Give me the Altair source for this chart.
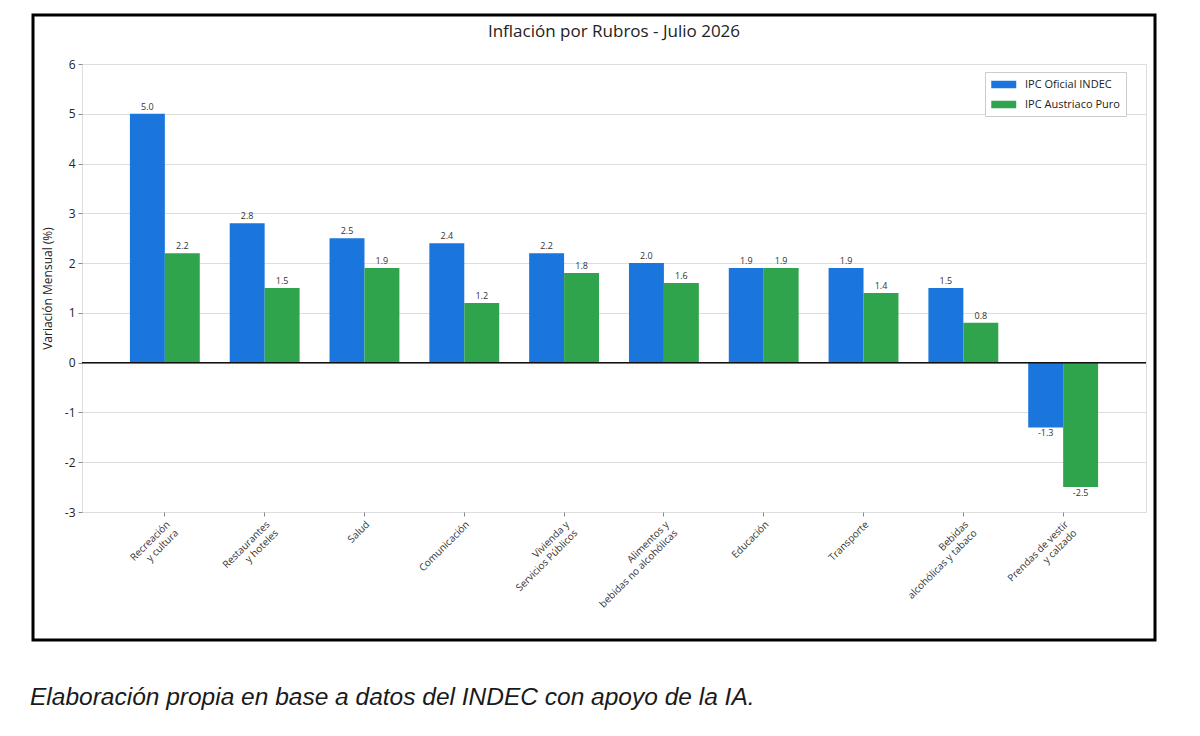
import altair as alt
import pandas as pd

categories = [
    "Recreación|y cultura",
    "Restaurantes|y hoteles",
    "Salud",
    "Comunicación",
    "Vivienda y|Servicios Públicos",
    "Alimentos y|bebidas no alcohólicas",
    "Educación",
    "Transporte",
    "Bebidas|alcohólicas y tabaco",
    "Prendas de vestir|y calzado",
]
indec = [5.0, 2.8, 2.5, 2.4, 2.2, 2.0, 1.9, 1.9, 1.5, -1.3]
austriaco = [2.2, 1.5, 1.9, 1.2, 1.8, 1.6, 1.9, 1.4, 0.8, -2.5]
series_names = ["IPC Oficial INDEC", "IPC Austriaco Puro"]
series_colors = ["#1a76dc", "#2fa44c"]
y_ticks = [-3, -2, -1, 0, 1, 2, 3, 4, 5, 6]
title_text = "Inflación por Rubros - Julio 2026"
y_title = "Variación Mensual (%)"
caption = "Elaboración propia en base a datos del INDEC con apoyo de la IA."

rows = []
for c, a, b in zip(categories, indec, austriaco):
    rows.append({"cat": c, "series": series_names[0], "value": a})
    rows.append({"cat": c, "series": series_names[1], "value": b})
df = pd.DataFrame(rows)

W, H = 1064, 448
FONT = "Open Sans"

x_enc = alt.X(
    "cat:N",
    sort=categories,
    scale=alt.Scale(paddingInner=0.3, paddingOuter=0.48),
    axis=alt.Axis(
        title=None,
        labelAngle=-45,
        labelExpr="split(datum.label, '|')",
        labelFontSize=10,
        labelFont=FONT,
        labelColor="#333",
        labelLimit=400,
        labelOverlap=False,
        labelPadding=3,
        tickColor="#888",
        tickSize=4,
        bandPosition=0.5,
        domain=False,
        grid=False,
    ),
)
xoff = alt.XOffset("series:N", sort=series_names, scale=alt.Scale(paddingInner=0))
y_enc = alt.Y(
    "value:Q",
    scale=alt.Scale(domain=[-3, 6], nice=False),
    axis=alt.Axis(
        title=y_title,
        titleFont=FONT,
        titleFontSize=12,
        titleFontWeight="normal",
        titleColor="#222",
        titlePadding=10,
        values=y_ticks,
        labelExpr="toString(datum.value)",
        labelFontSize=12,
        labelFont=FONT,
        labelColor="#222",
        tickColor="#888",
        tickSize=4,
        labelPadding=3,
        domain=False,
        grid=True,
        gridColor="#dddddd",
    ),
)

bars = alt.Chart(df).mark_bar().encode(
    x=x_enc,
    xOffset=xoff,
    y=y_enc,
    color=alt.Color(
        "series:N",
        sort=series_names,
        scale=alt.Scale(domain=series_names, range=series_colors),
        legend=alt.Legend(
            title=None,
            orient="none",
            legendX=903,
            legendY=8,
            strokeColor="#cccccc",
            fillColor="white",
            padding=6,
            labelFont=FONT,
            labelFontSize=11,
            labelColor="#222",
            symbolType="M-1,-0.6H3V0.6H-1Z",
            symbolSize=156,
            symbolStrokeWidth=0,
            rowPadding=8,
            labelOffset=21,
        ),
    ),
)

label_expr = "replace(format(datum.value, '.1f'), '\u2212', '-')"

pos_text = alt.Chart(df).transform_filter(alt.datum.value >= 0).transform_calculate(
    lab=label_expr
).mark_text(baseline="bottom", dy=-2, fontSize=9, font=FONT, color="#333").encode(
    x=alt.X("cat:N", sort=categories),
    xOffset=alt.XOffset("series:N", sort=series_names),
    y="value:Q",
    text="lab:N",
)
neg_text = alt.Chart(df).transform_filter(alt.datum.value < 0).transform_calculate(
    lab=label_expr
).mark_text(baseline="top", dy=2, fontSize=9, font=FONT, color="#333").encode(
    x=alt.X("cat:N", sort=categories),
    xOffset=alt.XOffset("series:N", sort=series_names),
    y="value:Q",
    text="lab:N",
)

zero = alt.Chart(pd.DataFrame({"z": [0]})).mark_rule(color="#111", strokeWidth=1.5).encode(
    y="z:Q"
)

frame = alt.Chart(pd.DataFrame({"f": [0]})).mark_rect(
    fill=None, stroke="black", strokeWidth=3
).encode(
    x=alt.value(-49), x2=alt.value(1073), y=alt.value(-49), y2=alt.value(576)
)

title = alt.Chart(pd.DataFrame({"t": [title_text]})).mark_text(
    align="center", baseline="middle", font=FONT, fontSize=17, color="#222"
).encode(x=alt.value(W / 2), y=alt.value(-32), text="t:N")

cap = alt.Chart(pd.DataFrame({"t": [caption]})).mark_text(
    align="left", baseline="alphabetic", font="Liberation Sans", fontStyle="italic",
    fontSize=24.5, color="#1a1a1a"
).encode(x=alt.value(-52), y=alt.value(641), text="t:N")

chart = alt.layer(bars, pos_text, neg_text, zero, frame, title, cap).properties(
    width=W,
    height=H,
    autosize=alt.AutoSizeParams(type="none"),
    padding={"left": 74, "top": 56, "right": 40, "bottom": 210},
).configure_view(stroke="#999999", strokeWidth=1).configure(background="white")

chart.save("out.html", embed_options={"renderer": "svg", "actions": False})
